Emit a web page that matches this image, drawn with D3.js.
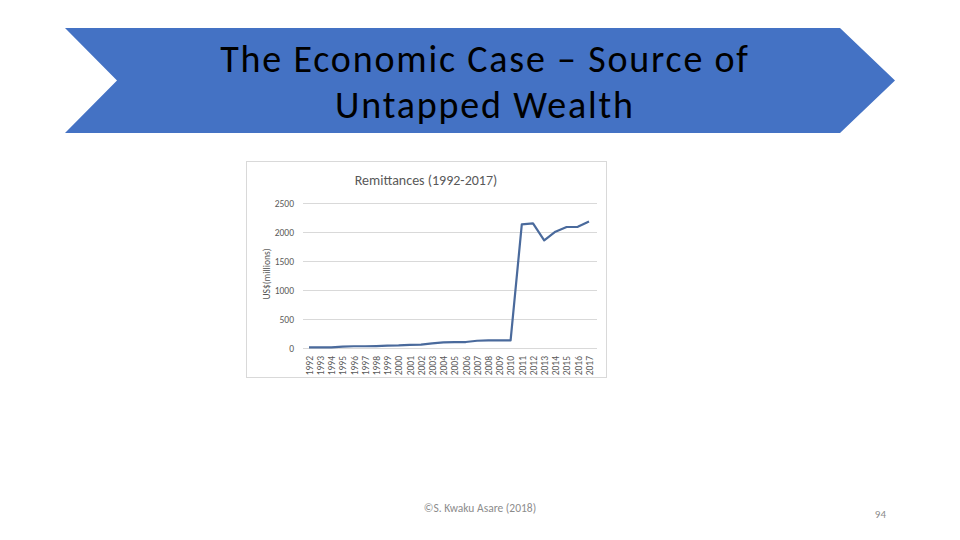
<!DOCTYPE html>
<html>
<head>
<meta charset="utf-8">
<script src="https://cdn.jsdelivr.net/npm/d3@7"></script>
<style>
  body { margin: 0; background: #fff; }
  svg { display: block; }
</style>
</head>
<body>
<svg id="slide" width="960" height="540"></svg>
<script>
// slide texts
const slideTitle = ["The Economic Case \u2013 Source of", "Untapped Wealth"];
const chartTitle = "Remittances (1992-2017)";
const yLabel = "US$(millions)";
const footer = "\u00a9S. Kwaku Asare (2018)";
const pageNo = "94";

// data
const years = ["1992","1993","1994","1995","1996","1997","1998","1999","2000","2001","2002","2003","2004",
               "2005","2006","2007","2008","2009","2010","2011","2012","2013","2014","2015","2016","2017"];
const remittances = [10, 10, 12, 25, 30, 30, 34, 40, 45, 55, 57, 80, 97,
                     100, 103, 125, 130, 131, 131, 2131, 2150, 1857, 2006, 2086, 2090, 2180];
const yTicks = [0, 500, 1000, 1500, 2000, 2500];

const svg = d3.select("#slide");
const font = "Calibri, Carlito, 'Open Sans', sans-serif";

// chevron banner
const banner = [[65, 28], [840, 28], [895, 80.5], [840, 133], [65, 133], [117, 80.5]];
svg.append("polygon")
    .attr("points", banner.map(p => p.join(",")).join(" "))
    .attr("fill", "#4472c4");

svg.append("g").selectAll("text")
    .data(slideTitle)
    .enter().append("text")
    .attr("x", 485)
    .attr("y", (d, i) => 72 + i * 46)
    .attr("text-anchor", "middle")
    .attr("font-family", font)
    .attr("font-size", 38)
    .attr("letter-spacing", 1.8)
    .attr("fill", "#000")
    .text(d => d);

// chart frame
const frame = { x: 246.5, y: 161.5, w: 360, h: 216 };
svg.append("rect")
    .attr("x", frame.x).attr("y", frame.y)
    .attr("width", frame.w).attr("height", frame.h)
    .attr("fill", "#fff")
    .attr("stroke", "#d9d9d9");

const plot = { left: 303, right: 597, top: 203, bottom: 348 };

const x = d3.scalePoint()
    .domain(years)
    .range([309, 589]);

const y = d3.scaleLinear()
    .domain([0, 2500])
    .range([plot.bottom, plot.top]);

// gridlines
svg.append("g").selectAll("line")
    .data(yTicks)
    .enter().append("line")
    .attr("x1", plot.left).attr("x2", plot.right)
    .attr("y1", d => y(d) + 0.5).attr("y2", d => y(d) + 0.5)
    .attr("stroke", "#d9d9d9");

// y axis labels
const yAxis = svg.append("g")
    .attr("transform", `translate(${plot.left - 9},0)`)
    .call(d3.axisLeft(y).tickValues(yTicks).tickFormat(d3.format("d")).tickSize(0).tickPadding(0));
yAxis.select(".domain").remove();
yAxis.selectAll("text")
    .attr("font-family", font)
    .attr("font-size", 9.5)
    .attr("fill", "#595959");

// x axis labels (rotated)
const xAxis = svg.append("g")
    .attr("transform", `translate(0,${plot.bottom + 8})`)
    .call(d3.axisBottom(x).tickSize(0).tickPadding(0));
xAxis.select(".domain").remove();
xAxis.selectAll("text")
    .attr("font-family", font)
    .attr("font-size", 9.5)
    .attr("fill", "#595959")
    .attr("text-anchor", "end")
    .attr("transform", "rotate(-90)")
    .attr("x", 0)
    .attr("y", 0)
    .attr("dy", "0.35em");

// line
const line = d3.line()
    .x((d, i) => x(years[i]))
    .y(d => y(d));

svg.append("path")
    .datum(remittances)
    .attr("d", line)
    .attr("fill", "none")
    .attr("stroke", "#4a6a9c")
    .attr("stroke-width", 2.2)
    .attr("stroke-linejoin", "round");

// chart title
svg.append("text")
    .attr("x", 426).attr("y", 185)
    .attr("text-anchor", "middle")
    .attr("font-family", font)
    .attr("font-size", 14)
    .attr("fill", "#595959")
    .text(chartTitle);

// y label
svg.append("text")
    .attr("transform", "translate(270,274) rotate(-90)")
    .attr("text-anchor", "middle")
    .attr("font-family", font)
    .attr("font-size", 9.5)
    .attr("fill", "#595959")
    .text(yLabel);

// footer
svg.append("text")
    .attr("x", 480).attr("y", 512)
    .attr("text-anchor", "middle")
    .attr("font-family", font)
    .attr("font-size", 11.5)
    .attr("fill", "#8c8c8c")
    .text(footer);

svg.append("text")
    .attr("x", 886).attr("y", 518)
    .attr("text-anchor", "end")
    .attr("font-family", font)
    .attr("font-size", 11)
    .attr("fill", "#8c8c8c")
    .text(pageNo);
</script>
</body>
</html>
